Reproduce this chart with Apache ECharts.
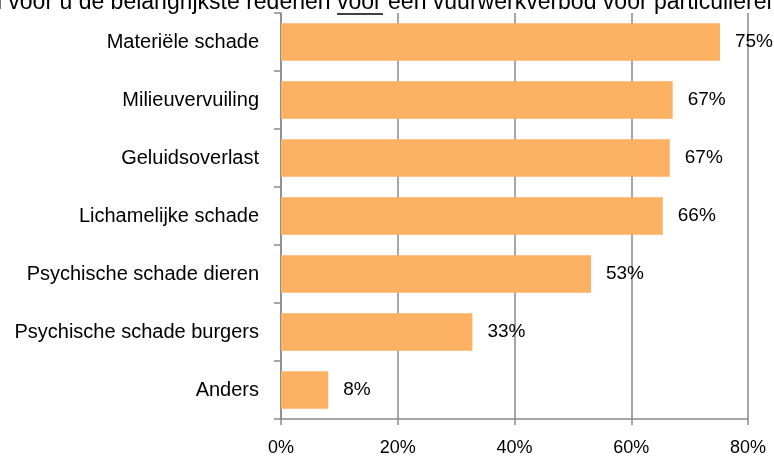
<!DOCTYPE html>
<html>
<head>
<meta charset="utf-8">
<script src="https://cdn.jsdelivr.net/npm/echarts@6/dist/echarts.min.js"></script>
<style>
html,body{margin:0;padding:0;background:#fff;}
#chart{width:774px;height:457px;}
</style>
</head>
<body>
<div id="chart"></div>
<script>
const categories = ['Materiële schade','Milieuvervuiling','Geluidsoverlast','Lichamelijke schade','Psychische schade dieren','Psychische schade burgers','Anders'];
const values = [75.2, 67.1, 66.6, 65.4, 53.1, 32.8, 8.1];
const valueLabels = ['75%','67%','67%','66%','53%','33%','8%'];
const xTicks = [0, 20, 40, 60, 80];
const titleBefore = 'Wat zijn voor u de belangrijkste redenen ';
const titleUnderlined = 'voor';
const titleAfter = ' een vuurwerkverbod voor particulieren?';

const chart = echarts.init(document.getElementById('chart'), null, {renderer:'canvas'});
const FONT = '"Liberation Sans", Arial, sans-serif';
const grey = '#8a8a8a';
chart.setOption({
  animation: false,
  backgroundColor: '#ffffff',
  grid: {left: 281, right: 26, top: 13, bottom: 38, containLabel: false},
  xAxis: {
    type: 'value',
    min: xTicks[0], max: xTicks[xTicks.length-1], interval: 20,
    axisLine: {show: true, lineStyle: {color: grey, width: 1.5}},
    axisTick: {show: true, length: 6, lineStyle: {color: grey, width: 1.5}},
    splitLine: {show: true, lineStyle: {color: grey, width: 1.5}},
    axisLabel: {formatter: v => v + '%', fontFamily: FONT, fontSize: 18, color: '#000', margin: 20}
  },
  yAxis: {
    type: 'category',
    data: categories,
    inverse: true,
    axisLine: {show: true, lineStyle: {color: grey, width: 1.5}},
    axisTick: {show: true, length: 7, lineStyle: {color: grey, width: 1.5}},
    axisLabel: {fontFamily: FONT, fontSize: 20, color: '#000', margin: 22}
  },
  series: [{
    type: 'bar',
    data: values,
    barWidth: '65%',
    itemStyle: {color: '#FDB163'},
    label: {
      show: true, position: 'right', distance: 15,
      formatter: p => valueLabels[p.dataIndex],
      fontFamily: FONT, fontSize: 19, color: '#000'
    }
  }],
  graphic: [
    {type: 'text', left: -79, top: -9, z: 10,
     style: {text: titleBefore + titleUnderlined + titleAfter, font: '23px ' + FONT, fill: '#000'}},
    {type: 'line', shape: {x1: 337, y1: 14, x2: 383, y2: 14}, style: {stroke: '#000', lineWidth: 1.5}}
  ]
});
</script>
</body>
</html>
